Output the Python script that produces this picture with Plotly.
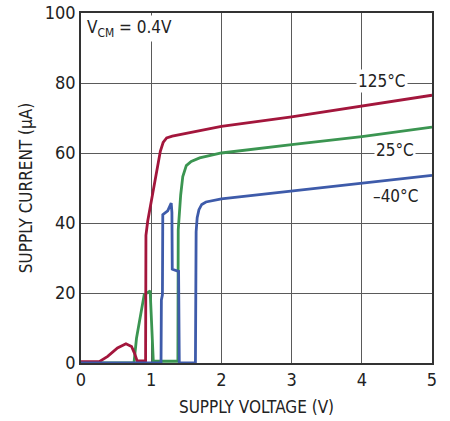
import plotly.graph_objects as go

# Supply current vs supply voltage at three temperatures (VCM = 0.4V)
v_125 = [0, 0.26, 0.38, 0.52, 0.64, 0.72, 0.76, 0.80, 0.92, 0.925, 0.95, 1.0, 1.13, 1.17, 1.22,
         1.3, 2.0, 3.0, 4.0, 5.0]
i_125 = [0.4, 0.4, 1.9, 4.3, 5.5, 4.7, 2.9, 0.6, 0.6, 36.5, 40.5, 46.0, 60.5, 63.0, 64.3,
         64.8, 67.6, 70.3, 73.3, 76.5]

v_25 = [0, 0.755, 0.79, 0.90, 0.985, 1.02, 1.03, 1.38, 1.385, 1.42, 1.45, 1.50, 1.57, 1.69,
        2.0, 3.0, 4.0, 5.0]
i_25 = [0, 0, 7.0, 19.5, 20.6, 1.5, 0.5, 0.5, 38.0, 48.0, 53.3, 56.4, 57.6, 58.6,
        60.0, 62.4, 64.7, 67.4]

v_m40 = [0, 1.14, 1.145, 1.16, 1.165, 1.235, 1.285, 1.295, 1.30, 1.31, 1.39, 1.40, 1.63, 1.64,
         1.655, 1.68, 1.72, 1.78, 2.0, 3.0, 4.0, 5.0]
i_m40 = [0, 0, 18.0, 19.5, 42.4, 43.5, 45.7, 43.0, 26.8, 26.7, 26.2, 0, 0, 37.5,
         41.5, 43.8, 45.3, 46.0, 46.9, 49.1, 51.3, 53.6]

temp_labels = ["125°C", "25°C", "–40°C"]
x_ticks = [0, 1, 2, 3, 4, 5]
y_ticks = [0, 20, 40, 60, 80, 100]

RED = "#A3163C"
GREEN = "#3B9551"
BLUE = "#3E5BAA"
FONT = "DejaVu Sans Condensed, Liberation Sans Narrow, Arial Narrow, sans-serif"

fig = go.Figure()
for xs, ys, col, name in [(v_25, i_25, GREEN, temp_labels[1]),
                          (v_125, i_125, RED, temp_labels[0]),
                          (v_m40, i_m40, BLUE, temp_labels[2])]:
    fig.add_trace(go.Scatter(x=xs, y=ys, mode="lines", name=name,
                             line=dict(color=col, width=2.8), showlegend=False))

# Curve labels sitting on white patches over the grid
label_pos = [(4.29, 80.5), (4.47, 61.0), (4.48, 47.6)]
for txt, (lx, ly) in zip(temp_labels, label_pos):
    fig.add_annotation(x=lx, y=ly, text=txt, showarrow=False, bgcolor="white",
                       borderpad=1, font=dict(size=17, color="#222", family=FONT))

fig.add_annotation(x=0.06, y=95.5, xanchor="left", yanchor="middle",
                   text="V<sub>CM</sub> = 0.4V", showarrow=False, bgcolor="white",
                   font=dict(size=17, color="#222", family=FONT))

axis_common = dict(showgrid=True, gridcolor="#5a5a5a", gridwidth=1,
                   showline=True, linecolor="#333", linewidth=1.5, mirror=True,
                   ticks="", zeroline=False, automargin=False,
                   tickfont=dict(size=18, color="#222", family=FONT),
                   title_font=dict(size=17, color="#222", family=FONT))

fig.update_xaxes(range=[0, 5], tickvals=x_ticks, title_text="SUPPLY VOLTAGE (V)",
                 title_standoff=12, **axis_common)
fig.update_yaxes(range=[0, 100], tickvals=y_ticks, title_text="SUPPLY CURRENT (µA)",
                 title_standoff=8, **axis_common)

fig.update_layout(width=450, height=421, margin=dict(l=81, r=18, t=13, b=58),
                  plot_bgcolor="white", paper_bgcolor="white")

fig.write_html("out.html")
